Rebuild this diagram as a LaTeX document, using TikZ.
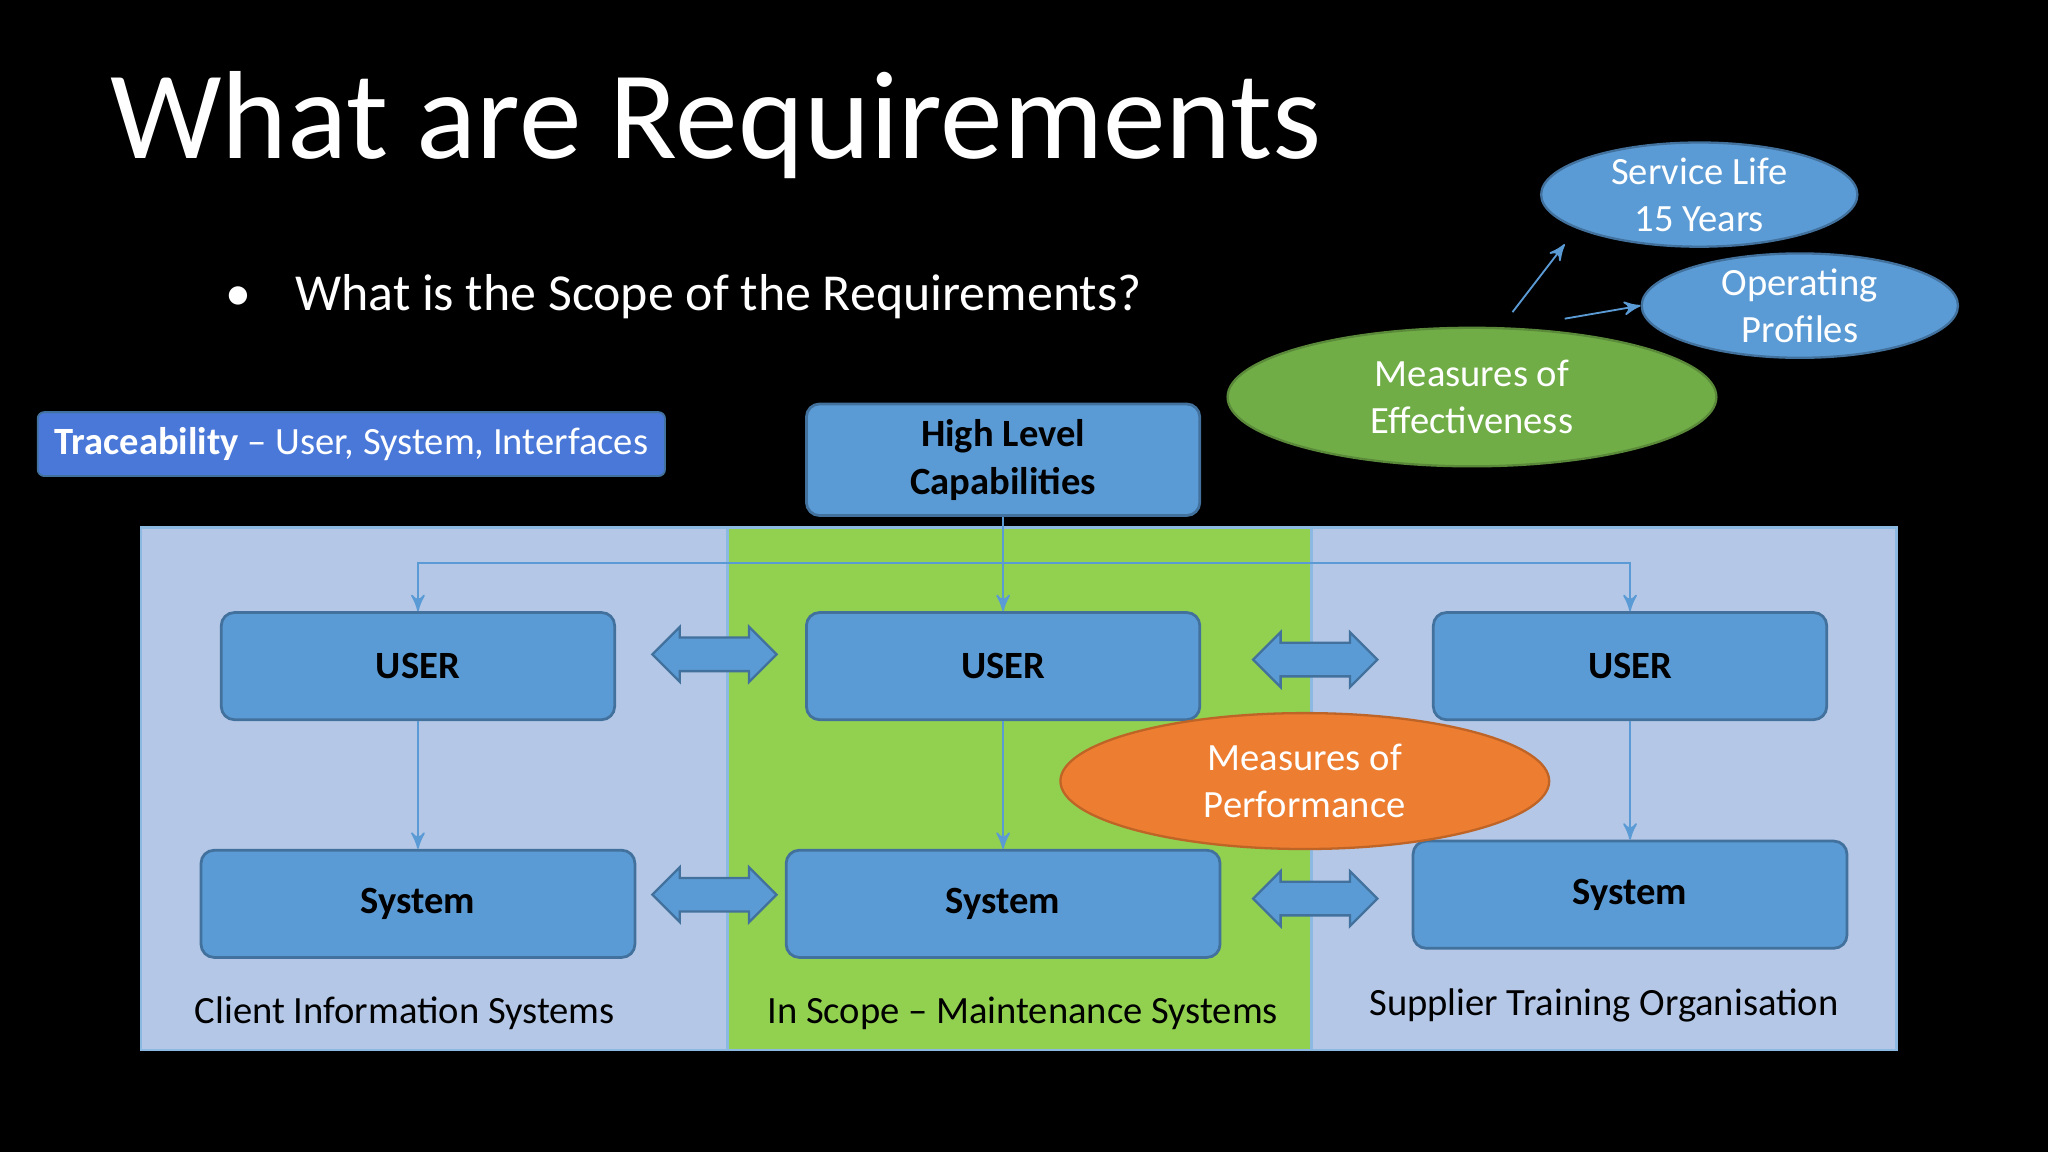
\documentclass[tikz,border=0pt]{standalone}
\usepackage{fontspec}
\setmainfont{Carlito}
\usetikzlibrary{arrows,calc,positioning,shapes.geometric,shapes.arrows}
\definecolor{boxblue}{HTML}{5B9BD5}
\definecolor{boxline}{HTML}{41719C}
\definecolor{paleblue}{HTML}{B4C7E7}
\definecolor{panelgreen}{HTML}{92D050}
\definecolor{moegreen}{HTML}{70AD47}
\definecolor{moporange}{HTML}{ED7D31}
\definecolor{tracefill}{HTML}{4A78D8}
\begin{document}
\begin{tikzpicture}[x=0.01cm,y=-0.01cm,
    blk/.style={draw=boxline,fill=boxblue,rounded corners=0.1cm,line width=0.6pt,
      minimum width=3.01cm,minimum height=0.82cm,font=\fontsize{8.4}{10.4}\selectfont\bfseries,align=center},
    oval/.style={ellipse,draw=boxline,line width=0.5pt,text=white,align=center,
      font=\fontsize{8.4}{10.2}\selectfont,inner sep=0pt},
    dbl/.style={double arrow,draw=boxline,fill=boxblue,line width=0.5pt,
      minimum width=0.42cm,minimum height=0.95cm,double arrow head extend=0.08cm},
    link/.style={boxblue,line width=0.4pt,-stealth'},
    lbl/.style={font=\fontsize{8.4}{10}\selectfont}]
\useasboundingbox (0,0) rectangle (1568,882);
\fill[black] (0,0) rectangle (1568,882);
%% panels
\draw[draw=boxblue!70,fill=paleblue,line width=0.6pt] (108,404) rectangle (557,804);
\draw[draw=boxblue!70,fill=panelgreen,line width=0.6pt] (557,404) rectangle (1004,804);
\draw[draw=boxblue!70,fill=paleblue,line width=0.6pt] (1004,404) rectangle (1452,804);
%% titles
\node[anchor=west,text=white,font=\fontsize{27.3}{28}\selectfont] (title) at (72,96) {What are Requirements};
\node[anchor=west,text=white,font=\fontsize{11.3}{13}\selectfont] (bullet) at (160,227) {•\hspace{0.85em}What is the Scope of the Requirements?};
\node[draw=boxline,fill=tracefill,rounded corners=0.05cm,minimum width=4.8cm,minimum height=0.41cm,
  text=white,font=\fontsize{8.4}{10}\selectfont] (trace) at (269,340) {\textbf{Traceability} – User, System, Interfaces};
%% boxes
\node[blk] (hlc) at (768,352) {High Level\\Capabilities};
\node[blk] (userA) at (320,510) {USER};
\node[blk] (userB) at (768,510) {USER};
\node[blk] (userC) at (1248,510) {USER};
\node[blk,minimum width=3.32cm] (sysA) at (320,692) {System};
\node[blk,minimum width=3.32cm] (sysB) at (768,692) {System};
\node[blk,minimum width=3.32cm] (sysC) at (1248,685) {System};
%% connectors
\coordinate (hub) at (768,431);
\draw[boxblue,line width=0.4pt] (hlc.south) -- (hub);
\draw[link] (hub) -| (userA.north);
\draw[link] (hub) -- (userB.north);
\draw[link] (hub) -| (userC.north);
\draw[link] (userA) -- (sysA);
\draw[link] (userB) -- (sysB);
\draw[link] (userC) -- (sysC);
\node[dbl] (arrA) at (547,501) {};
\node[dbl] (arrB) at (1007,505) {};
\node[dbl] (arrC) at (547,685) {};
\node[dbl] (arrD) at (1007,688) {};
%% ellipses
\node[oval,fill=moporange,draw=moporange!80!black,minimum width=3.74cm,minimum height=1.04cm] (mop) at (999,598) {Measures of\\Performance};
\node[oval,fill=moegreen,draw=moegreen!80!black,minimum width=3.74cm,minimum height=1.06cm] (moe) at (1127,304) {Measures of\\Effectiveness};
\node[oval,fill=boxblue,minimum width=2.42cm,minimum height=0.76cm] (life) at (1301,149) {Service Life\\15 Years};
\node[oval,fill=boxblue,minimum width=2.42cm,minimum height=0.76cm] (prof) at (1378,234) {Operating\\Profiles};
\coordinate (moeA) at (1158,239);
\coordinate (moeB) at (1198,244);
\draw[link] (moeA) -- (1198,187);
\draw[link] (moeB) -- (prof.west);
%% panel labels
\node[lbl] (client) at (310,776) {Client Information Systems};
\node[lbl] (scope) at (783,776) {In Scope – Maintenance Systems};
\node[lbl] (supp) at (1228,770) {Supplier Training Organisation};
\end{tikzpicture}
\end{document}
